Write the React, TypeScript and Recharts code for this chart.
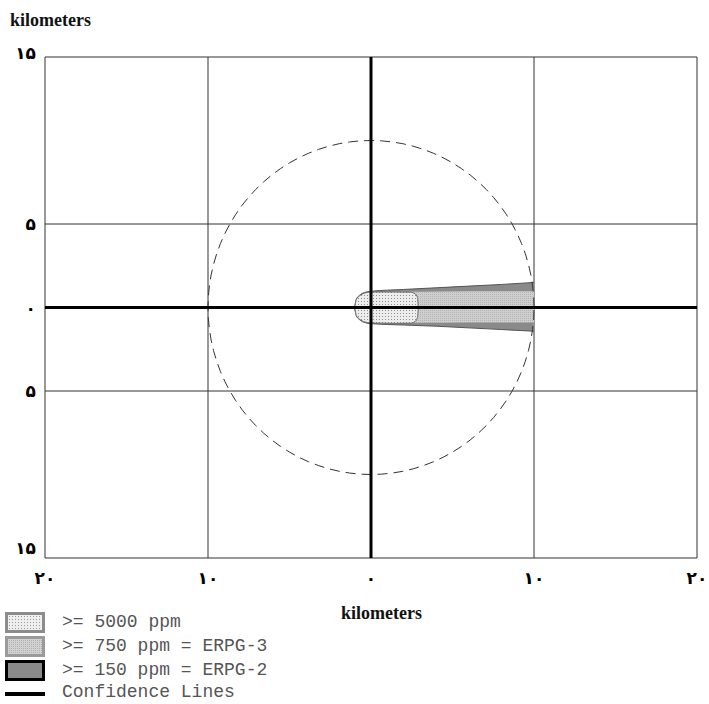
import React from "react";
import {
  Area,
  CartesianGrid,
  ComposedChart,
  Line,
  ReferenceLine,
  XAxis,
  YAxis,
} from "recharts";

// axis ticks (km)
const xTicks = [-20, -10, 0, 10, 20];
const yTicks = [-15, -5, 0, 5, 15];

// >= 150 ppm (ERPG-2) footprint: downwind km, crosswind upper / lower edge km
const zone150X = [-1, -0.9, -0.7, -0.4, 0, 2, 4, 6, 8, 10];
const zone150Top = [0, 0.5, 0.73, 0.9, 0.97, 1.08, 1.18, 1.28, 1.38, 1.5];
const zone150Bottom = [0, -0.5, -0.73, -0.9, -0.97, -1.05, -1.12, -1.22, -1.32, -1.42];

// >= 750 ppm (ERPG-3)
const zone750X = [-1, -0.9, -0.7, -0.4, 0, 3, 6, 10];
const zone750Top = [0, 0.48, 0.7, 0.86, 0.93, 0.95, 0.97, 0.98];
const zone750Bottom = [0, -0.48, -0.7, -0.86, -0.93, -0.92, -0.9, -0.9];

// >= 5000 ppm
const zone5000X = [-1, -0.9, -0.7, -0.4, 0, 1.5, 2.4, 2.7, 2.85, 2.9];
const zone5000Top = [0, 0.48, 0.7, 0.86, 0.93, 0.93, 0.92, 0.82, 0.6, 0];
const zone5000Bottom = [0, -0.48, -0.7, -0.86, -0.93, -0.95, -0.94, -0.84, -0.6, 0];

// confidence circle around the source
const confidenceRadiusKm = 10;
const confidenceSteps = 96;

const zone150 = zone150X.map((x, i) => ({ x, band: [zone150Bottom[i], zone150Top[i]] }));
const zone750 = zone750X.map((x, i) => ({ x, band: [zone750Bottom[i], zone750Top[i]] }));
const zone5000 = zone5000X.map((x, i) => ({ x, band: [zone5000Bottom[i], zone5000Top[i]] }));
const confidence = Array.from({ length: confidenceSteps + 1 }, (_, i) => {
  const a = (i / confidenceSteps) * Math.PI * 2;
  return { x: confidenceRadiusKm * Math.cos(a), y: confidenceRadiusKm * Math.sin(a) };
});

const PERSIAN = "۰۱۲۳۴۵۶۷۸۹";
const toPersian = (n: number) =>
  String(Math.abs(n)).replace(/\d/g, (d) => PERSIAN[Number(d)]);

const tickFont = { fontFamily: "'DejaVu Sans', sans-serif", fontWeight: 700, fontSize: 17 };

const XTick = ({ x, y, payload }: any) => (
  <text x={x} y={y} dy={20} textAnchor="middle" dominantBaseline="central" fill="#000" style={tickFont}>
    {toPersian(payload.value)}
  </text>
);

const YTick = ({ x, y, payload }: any) => {
  const shift = payload.value === 15 ? -4 : payload.value === -15 ? -10 : 0;
  return (
    <text x={x} y={y} dy={shift} textAnchor="end" dominantBaseline="central" fill="#000" style={tickFont}>
      {toPersian(payload.value)}
    </text>
  );
};

const legendRows = [
  { label: ">= 5000 ppm", fill: "url(#lg5000)", border: "#8c8c8c", top: 612 },
  { label: ">= 750 ppm = ERPG-3", fill: "url(#lg750)", border: "#9a9a9a", top: 636 },
  { label: ">= 150 ppm = ERPG-2", fill: "#8a8a8a", border: "#000", top: 660 },
];

const serifBold: React.CSSProperties = {
  position: "absolute",
  fontFamily: "'Liberation Serif', 'Times New Roman', serif",
  fontWeight: 700,
  fontSize: 18,
  color: "#111",
};

const monoText: React.CSSProperties = {
  fontFamily: "'Liberation Mono', monospace",
  fontSize: 18,
  lineHeight: "21px",
  color: "#555",
  whiteSpace: "pre",
};

export default function App() {
  return (
    <div style={{ position: "absolute", left: 0, top: 0, width: 709, height: 704, background: "#fff", overflow: "hidden" }}>
      <div style={{ ...serifBold, left: 10, top: 10 }}>kilometers</div>
      <ComposedChart width={709} height={704} margin={{ top: 57, right: 12, bottom: 116, left: 0 }}>
        <defs>
          <pattern id="dots5000" width={3} height={3} patternUnits="userSpaceOnUse">
            <rect width={3} height={3} fill="#ededed" />
            <rect x={1} y={1} width={1} height={1} fill="#8f8f8f" />
          </pattern>
          <pattern id="dots750" width={2} height={2} patternUnits="userSpaceOnUse">
            <rect width={2} height={2} fill="#cfcfcf" />
            <rect x={0} y={0} width={1} height={1} fill="#b4b4b4" />
          </pattern>
        </defs>
        <CartesianGrid stroke="#333" strokeWidth={1} />
        <XAxis
          type="number"
          dataKey="x"
          domain={[-20, 20]}
          ticks={xTicks}
          allowDataOverflow
          axisLine={false}
          tickLine={false}
          tickSize={0}
          tickMargin={0}
          height={30}
          tick={<XTick />}
          interval={0}
        />
        <YAxis
          type="number"
          domain={[-15, 15]}
          ticks={yTicks}
          allowDataOverflow
          axisLine={false}
          tickLine={false}
          tickSize={0}
          tickMargin={9}
          width={45}
          tick={<YTick />}
          interval={0}
        />
        <Area
          data={zone150}
          dataKey="band"
          type="monotone"
          fill="#8a8a8a"
          fillOpacity={1}
          stroke="#555"
          strokeWidth={1}
          isAnimationActive={false}
        />
        <Area
          data={zone750}
          dataKey="band"
          type="monotone"
          fill="url(#dots750)"
          fillOpacity={1}
          stroke="none"
          isAnimationActive={false}
        />
        <Area
          data={zone5000}
          dataKey="band"
          type="monotone"
          fill="url(#dots5000)"
          fillOpacity={1}
          stroke="#6a6a6a"
          strokeWidth={1}
          isAnimationActive={false}
        />
        <Line
          data={confidence}
          dataKey="y"
          type="linear"
          stroke="#333"
          strokeWidth={1}
          strokeDasharray="10 6"
          dot={false}
          activeDot={false}
          isAnimationActive={false}
        />
        <ReferenceLine x={0} stroke="#000" strokeWidth={3} />
        <ReferenceLine y={0} stroke="#000" strokeWidth={3} />
      </ComposedChart>
      <div style={{ ...serifBold, left: 341, top: 603 }}>kilometers</div>
      <svg width={0} height={0} style={{ position: "absolute" }}>
        <defs>
          <pattern id="lg5000" width={3} height={3} patternUnits="userSpaceOnUse">
            <rect width={3} height={3} fill="#efefef" />
            <rect x={1} y={1} width={1} height={1} fill="#9a9a9a" />
          </pattern>
          <pattern id="lg750" width={2} height={2} patternUnits="userSpaceOnUse">
            <rect width={2} height={2} fill="#d2d2d2" />
            <rect width={1} height={1} fill="#b0b0b0" />
          </pattern>
        </defs>
      </svg>
      {legendRows.map((row) => (
        <div key={row.label} style={{ position: "absolute", left: 5, top: row.top, height: 21, display: "flex", alignItems: "center" }}>
          <svg width={40} height={21}>
            <rect x={1.5} y={1.5} width={37} height={18} fill={row.fill} stroke={row.border} strokeWidth={3} />
          </svg>
          <span style={{ ...monoText, marginLeft: 17 }}>{row.label}</span>
        </div>
      ))}
      <div style={{ position: "absolute", left: 5, top: 682, height: 21, display: "flex", alignItems: "center" }}>
        <svg width={40} height={21}>
          <line x1={0} y1={12} x2={40} y2={12} stroke="#000" strokeWidth={4} />
        </svg>
        <span style={{ ...monoText, marginLeft: 17 }}>Confidence Lines</span>
      </div>
    </div>
  );
}
